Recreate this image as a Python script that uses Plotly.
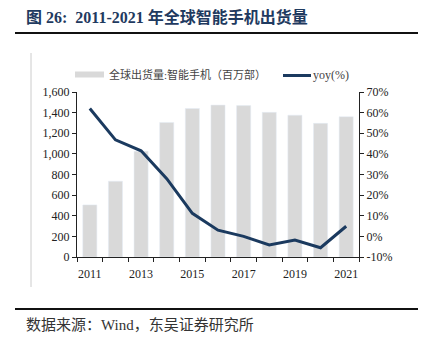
import plotly.graph_objects as go

years = [2011, 2012, 2013, 2014, 2015, 2016, 2017, 2018, 2019, 2020, 2021]
shipments = [505, 735, 1025, 1305, 1440, 1473, 1468, 1403, 1375, 1296, 1360]
yoy = [62.0, 46.8, 41.5, 28.0, 11.2, 3.0, 0.0, -4.2, -1.8, -5.5, 4.9]
bar_name = "全球出货量:智能手机（百万部）"
line_name = "yoy(%)"
left_ticks = [0, 200, 400, 600, 800, 1000, 1200, 1400, 1600]
right_ticks = [-10, 0, 10, 20, 30, 40, 50, 60, 70]
x_ticks = [2011, 2013, 2015, 2017, 2019, 2021]

SERIF = "Liberation Serif, Times New Roman, Noto Sans CJK SC, serif"
CJK = "Liberation Serif, Noto Sans CJK SC, serif"
NAVY = "#1B3A5F"

fig = go.Figure()
fig.add_trace(go.Bar(x=years, y=shipments, name=bar_name, marker_color="#D9D9D9",
                     width=0.55, showlegend=False))
fig.add_trace(go.Scatter(x=years, y=yoy, name=line_name, mode="lines", yaxis="y2",
                         line=dict(color=NAVY, width=3), showlegend=False))

fig.update_layout(
    width=421, height=343,
    margin=dict(l=77, r=62, t=92, b=86),
    paper_bgcolor="white", plot_bgcolor="white",
    font=dict(family=SERIF, size=12, color="#222"),
    xaxis=dict(range=[2010.5, 2021.5], tickvals=x_ticks, ticktext=[str(v) for v in x_ticks],
               showgrid=False, zeroline=False, showline=True, linecolor="#222", linewidth=1,
               ticks="", ticklabelstandoff=6,
               minor=dict(tickvals=[2010.5 + i for i in range(12)], ticks="outside",
                          ticklen=4, tickcolor="#222")),
    yaxis=dict(range=[0, 1600], tickvals=left_ticks,
               ticktext=[f"{v:,}" for v in left_ticks],
               showgrid=False, zeroline=False, showline=True, linecolor="#222", linewidth=1,
               ticks="outside", ticklen=4, tickcolor="#222"),
    yaxis2=dict(range=[-10, 70], tickvals=right_ticks,
                ticktext=[f"{v}%" for v in right_ticks], overlaying="y", side="right",
                showgrid=False, zeroline=False, showline=True, linecolor="#222", linewidth=1,
                ticks="outside", ticklen=4, tickcolor="#222"),
    showlegend=False,
)

def px(x):
    return (x - 77) / 282

def py(y):
    return (343 - 86 - y) / 165

# decorative frame lines
fig.add_shape(type="line", xref="paper", yref="paper", x0=px(15), x1=px(418),
              y0=py(33), y1=py(33), line=dict(color="#111", width=2))
fig.add_shape(type="line", xref="paper", yref="paper", x0=px(15), x1=px(418),
              y0=py(309), y1=py(309), line=dict(color="#111", width=2))
fig.add_shape(type="line", xref="paper", yref="paper", x0=px(31), x1=px(31),
              y0=py(287), y1=py(53), line=dict(color="#CCCCCC", width=1))

# legend drawn manually
fig.add_shape(type="rect", xref="paper", yref="paper", x0=px(75), x1=px(104),
              y0=py(77.5), y1=py(71.5), fillcolor="#D9D9D9", line=dict(width=0))
fig.add_annotation(xref="paper", yref="paper", x=px(107), y=py(74.5), text=bar_name,
                   showarrow=False, xanchor="left", yanchor="middle",
                   font=dict(family=CJK, size=11, color="#444"))
fig.add_shape(type="line", xref="paper", yref="paper", x0=px(283), x1=px(311),
              y0=py(75.5), y1=py(75.5), line=dict(color=NAVY, width=3))
fig.add_annotation(xref="paper", yref="paper", x=px(311), y=py(74.5), text=line_name,
                   showarrow=False, xanchor="left", yanchor="middle",
                   font=dict(family=SERIF, size=12, color="#444"))

# title and source
fig.add_annotation(xref="paper", yref="paper", x=px(24), y=py(17), text="<b>图 26:  2011-2021 年全球智能手机出货量</b>",
                   showarrow=False, xanchor="left", yanchor="middle",
                   font=dict(family=CJK, size=16, color="#1F3A60"))
fig.add_annotation(xref="paper", yref="paper", x=px(24), y=py(325), text="数据来源：Wind，东吴证券研究所",
                   showarrow=False, xanchor="left", yanchor="middle",
                   font=dict(family=CJK, size=15, color="#333"))

fig.write_html("out.html")
